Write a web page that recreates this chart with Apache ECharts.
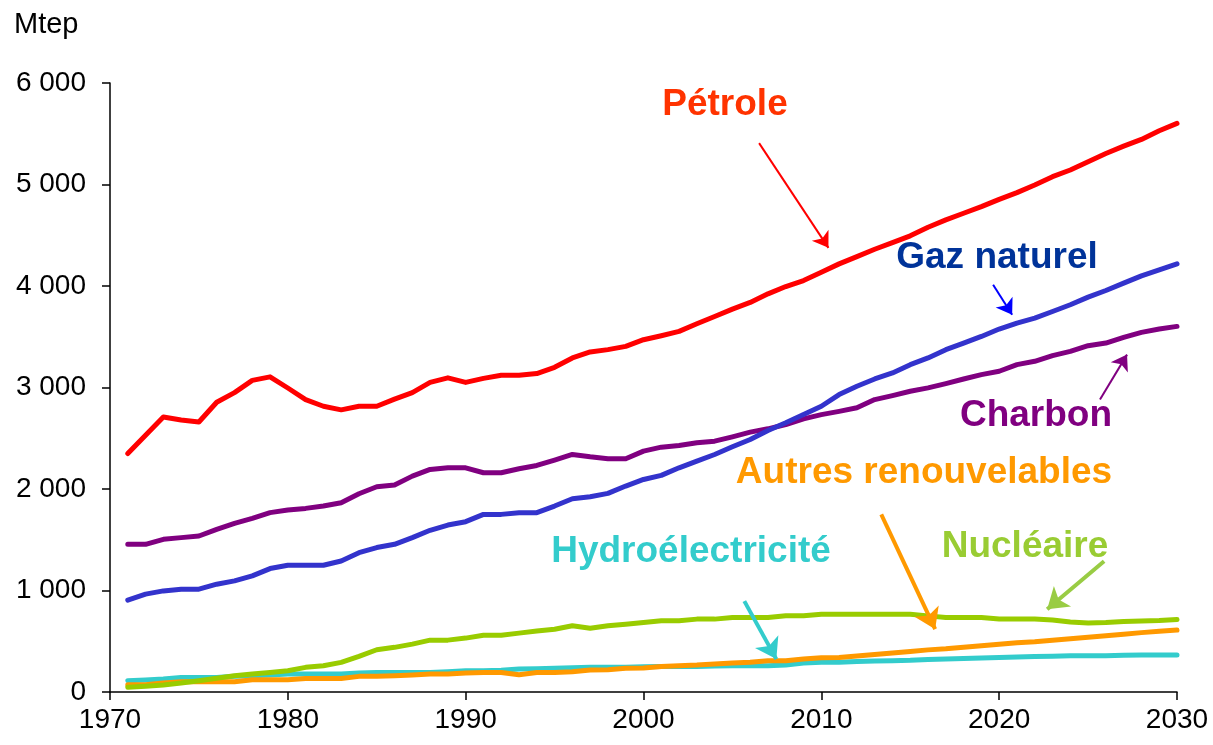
<!DOCTYPE html>
<html>
<head lang="fr">
    <meta charset="UTF-8">
    <title>Consommation mondiale d'énergie primaire</title>
    <script src="https://cdn.jsdelivr.net/npm/echarts@6/dist/echarts.min.js"></script>
    <style>
        html, body { margin: 0; padding: 0; background: #fff; }
        #container{
            width: 1213px;
            height: 745px;
        }
    </style>
</head>
<body>
<div id="container"></div>
<script>
    // années 1971 - 2030
    var years = [];
    for (var y = 1971; y <= 2030; y++) years.push(y);

    var petrole = [2350,2530,2710,2680,2660,2855,2950,3070,3105,2995,
                   2880,2815,2780,2815,2815,2885,2950,3050,3095,3050,
                   3090,3120,3120,3137,3199,3291,3350,3373,3405,3471,
                   3510,3553,3628,3700,3772,3838,3923,3995,4054,4135,
                   4218,4290,4362,4428,4494,4579,4651,4717,4782,4854,
                   4920,4995,5077,5143,5224,5306,5378,5444,5529,5602];
    var gaz = [905,964,996,1013,1013,1062,1095,1144,1216,1249,
               1249,1249,1291,1373,1423,1455,1521,1593,1645,1678,
               1750,1750,1767,1767,1832,1904,1924,1957,2029,2094,
               2134,2209,2275,2340,2416,2488,2576,2652,2733,2815,
               2930,3012,3084,3143,3225,3291,3373,3438,3503,3576,
               3635,3684,3749,3815,3890,3956,4028,4100,4159,4218];
    var charbon = [1455,1455,1504,1521,1537,1603,1662,1711,1767,1793,
                   1809,1832,1865,1953,2022,2039,2127,2193,2209,2209,
                   2160,2160,2199,2232,2284,2340,2317,2298,2298,2373,
                   2412,2429,2455,2471,2514,2560,2593,2635,2691,2733,
                   2765,2800,2881,2920,2963,2996,3038,3084,3127,3160,
                   3225,3258,3314,3356,3412,3438,3494,3543,3576,3602];
    var nucleaire = [46,56,69,88,111,135,160,177,193,210,
                     243,259,292,351,416,440,472,511,511,531,
                     560,560,580,600,619,652,629,652,668,685,
                     701,701,718,718,734,734,734,751,751,767,
                     767,767,767,767,765,750,735,735,735,720,
                     720,720,710,690,680,685,695,700,705,715];
    var hydro = [111,118,128,144,144,144,155,160,167,177,
                 177,177,177,187,193,193,193,193,200,210,
                 210,215,226,230,233,238,243,243,243,248,
                 252,252,252,255,259,259,259,265,285,292,
                 292,300,305,308,312,320,326,330,335,340,
                 345,350,353,356,357,358,362,364,364,364];
    var autres = [72,72,88,101,101,101,101,121,121,121,
                  134,134,134,154,154,160,167,177,177,187,
                  193,193,170,193,193,200,216,220,233,236,
                  252,259,265,275,285,292,308,308,324,337,
                  340,355,370,385,400,415,425,440,455,470,
                  485,495,510,525,540,555,570,585,598,610];

    function pairs(values) {
        return years.map(function (yr, i) { return [yr, values[i]]; });
    }

    function fleche(x1, y1, x2, y2, color, width) {
        return {
            silent: true,
            symbol: ['none', 'arrow'],
            symbolSize: width > 3 ? 20 : 15,
            label: { show: false },
            lineStyle: { color: color, width: width, type: 'solid' },
            emphasis: { disabled: true },
            animation: false,
            data: [[{ coord: [x1, y1] }, { coord: [x2, y2] }]]
        };
    }

    function serie(name, values, color, mark) {
        return {
            name: name,
            type: 'line',
            data: pairs(values),
            showSymbol: false,
            symbol: 'none',
            lineStyle: { color: color, width: 5, cap: 'round', join: 'round' },
            itemStyle: { color: color },
            markLine: mark
        };
    }

    var txtFont = 'bold 37px "Liberation Sans", Arial, sans-serif';
    function etiquette(text, x, y, color) {
        return {
            type: 'text',
            x: x, y: y,
            style: { text: text, font: txtFont, fill: color, textAlign: 'center', textVerticalAlign: 'middle' }
        };
    }

    var myChart = echarts.init(document.getElementById("container"));
    myChart.setOption({
        animation: false,
        grid: { left: 110, right: 36, top: 83, bottom: 53 },
        xAxis: {
            type: 'value',
            min: 1970, max: 2030, interval: 10,
            splitLine: { show: false },
            axisLine: { lineStyle: { color: '#000', width: 1.5 } },
            axisTick: { show: true, length: 8, lineStyle: { color: '#000', width: 1.5 } },
            axisLabel: {
                color: '#000', fontSize: 28, fontFamily: '"Liberation Sans", Arial', margin: 14,
                formatter: function (v) { return String(v); }
            }
        },
        yAxis: {
            type: 'value',
            min: 0, max: 6000, interval: 1000,
            splitLine: { show: false },
            axisLine: { show: true, lineStyle: { color: '#000', width: 1.5 } },
            axisTick: { show: true, length: 8, lineStyle: { color: '#000', width: 1.5 } },
            axisLabel: {
                color: '#000', fontSize: 28, fontFamily: '"Liberation Sans", Arial', margin: 24,
                formatter: function (v) { return String(v).replace(/\B(?=(\d{3})+(?!\d))/g, ' '); }
            }
        },
        graphic: [
            { type: 'text', x: 14, y: 25, style: { text: 'Mtep', font: '29px "Liberation Sans", Arial', fill: '#000', textVerticalAlign: 'middle' } },
            etiquette('Pétrole', 725, 105, '#ff3300'),
            etiquette('Gaz naturel', 997, 258, '#003399'),
            etiquette('Charbon', 1036, 416, '#800080'),
            etiquette('Autres renouvelables', 924, 473, '#ff9900'),
            etiquette('Nucléaire', 1025, 547, '#99cc33'),
            etiquette('Hydroélectricité', 691, 552, '#33cccc')
        ],
        series: [
            serie('Hydroélectricité', hydro, '#33cccc', fleche(2005.67, 895, 2007.47, 324, '#33cccc', 4)),
            serie('Autres renouvelables', autres, '#ff9900', fleche(2013.37, 1750, 2016.4, 619, '#ff9900', 4)),
            serie('Nucléaire', nucleaire, '#99cc00', fleche(2025.9, 1288, 2022.7, 816, '#99cc44', 4)),
            serie('Charbon', charbon, '#800080', fleche(2025.67, 2881, 2027.19, 3324, '#800080', 2)),
            serie('Gaz naturel', gaz, '#3333cc', fleche(2019.66, 4012, 2020.73, 3717, '#0000ff', 2)),
            serie('Pétrole', petrole, '#ff0000', fleche(2006.5, 5408, 2010.4, 4376, '#ff0000', 2))
        ]
    });
</script>

</body>
</html>
